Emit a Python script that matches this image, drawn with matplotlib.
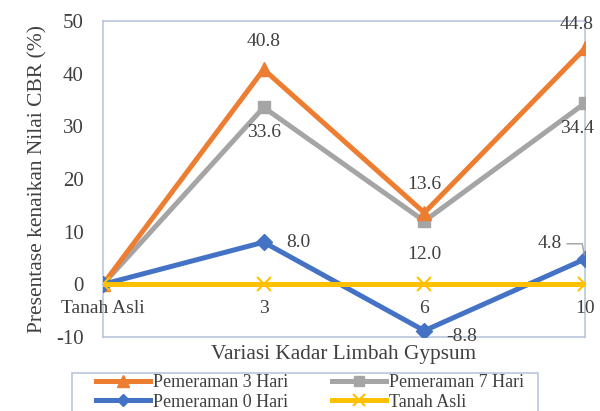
import matplotlib
matplotlib.use("Agg")
import matplotlib.pyplot as plt
from matplotlib.patches import Rectangle

categories = ["Tanah Asli", "3", "6", "10"]
p3 = [0, 40.8, 13.6, 44.8]
p7 = [0, 33.6, 12.0, 34.4]
p0 = [0, 8.0, -8.8, 4.8]
asli = [0, 0, 0, 0]

plt.rcParams['font.family'] = ['Liberation Serif', 'DejaVu Serif']
plt.rcParams['axes.unicode_minus'] = False
txt = '#404040'
frame = '#B4C2DA'

fig = plt.figure(figsize=(6, 4.11), dpi=100)
ax = fig.add_axes([103/600, 1-337/411, (585-103)/600, (337-21)/411])
x = list(range(len(categories)))

c3, c7, c0, cy = '#ED7D31', '#A5A5A5', '#4472C4', '#FFC000'
lw = 3.6
l3, = ax.plot(x, p3, color=c3, lw=lw, marker='^', ms=10, label='Pemeraman 3 Hari', zorder=4)
l7, = ax.plot(x, p7, color=c7, lw=lw, marker='s', ms=9, label='Pemeraman 7 Hari', zorder=3)
l0, = ax.plot(x, p0, color=c0, lw=lw, marker='D', ms=8, label='Pemeraman 0 Hari', zorder=5)
ly, = ax.plot(x, asli, color=cy, lw=lw, marker='x', ms=10, mew=1.5, label='Tanah Asli', zorder=6)

ax.set_xlim(0, 3)
ax.set_ylim(-10, 50)
ax.set_yticks([-10, 0, 10, 20, 30, 40, 50])
ax.tick_params(axis='y', length=0, labelsize=15, labelcolor=txt, pad=14)
ax.set_xticks([])
for s in ax.spines.values():
    s.set_color(frame)
    s.set_linewidth(1.1)

for xi, lab in zip(x, categories):
    ax.annotate(lab, (xi, 0), xytext=(0, -11), textcoords='offset points',
                ha='center', va='top', fontsize=14, color=txt)

fs = 14
def lab(xi, yi, s, dx, dy, ha='center', va='center'):
    ax.annotate(s, (xi, yi), xytext=(dx, dy), textcoords='offset points',
                ha=ha, va=va, fontsize=fs, color=txt, zorder=10)

lab(1, p3[1], '40.8', 0, 20)
lab(2, p3[2], '13.6', 0, 14, va='bottom')
lab(3, p3[3], '44.8', -6, 17)
lab(1, p7[1], '33.6', 0, -12, va='top')
lab(2, p7[2], '12.0', 0, -18, va='top')
lab(3, p7[3], '34.4', -6, -12, va='top')
lab(1, p0[1], '8.0', 16, 0, ha='left')
lab(2, p0[2], '-8.8', 16, -4, ha='left')
ax.annotate('4.8', (3, p0[3]), xytext=(-17, 11), textcoords='offset points',
            ha='right', va='center', fontsize=fs, color=txt, zorder=10,
            arrowprops=dict(arrowstyle='-', color='#A0A0A0', lw=1,
                            connectionstyle='angle,angleA=0,angleB=100,rad=0',
                            shrinkA=2, shrinkB=3))

ax.set_ylabel('Presentase kenaikan Nilai CBR (%)', fontsize=15.5, color=txt, labelpad=6)
fig.text(344/600, 1-354/411, 'Variasi Kadar Limbah Gypsum', ha='center', va='center',
         fontsize=15.3, color=txt)

fig.patches.append(Rectangle((72/600, -0.05), (538-72)/600, 0.05 + 1-373/411,
                             transform=fig.transFigure, fill=False,
                             edgecolor=frame, lw=1.1))
leg = fig.legend(handles=[l3, l0, l7, ly], ncol=2, loc='upper left',
                 bbox_to_anchor=(96/600, 1-374/411), fontsize=13,
                 frameon=False, handlelength=3.0,
                 handletextpad=0.17, columnspacing=2.4, labelspacing=0.15,
                 borderpad=0, borderaxespad=0, markerscale=0.8)
for t in leg.get_texts():
    t.set_color(txt)

fig.savefig('out.png', dpi=100)
